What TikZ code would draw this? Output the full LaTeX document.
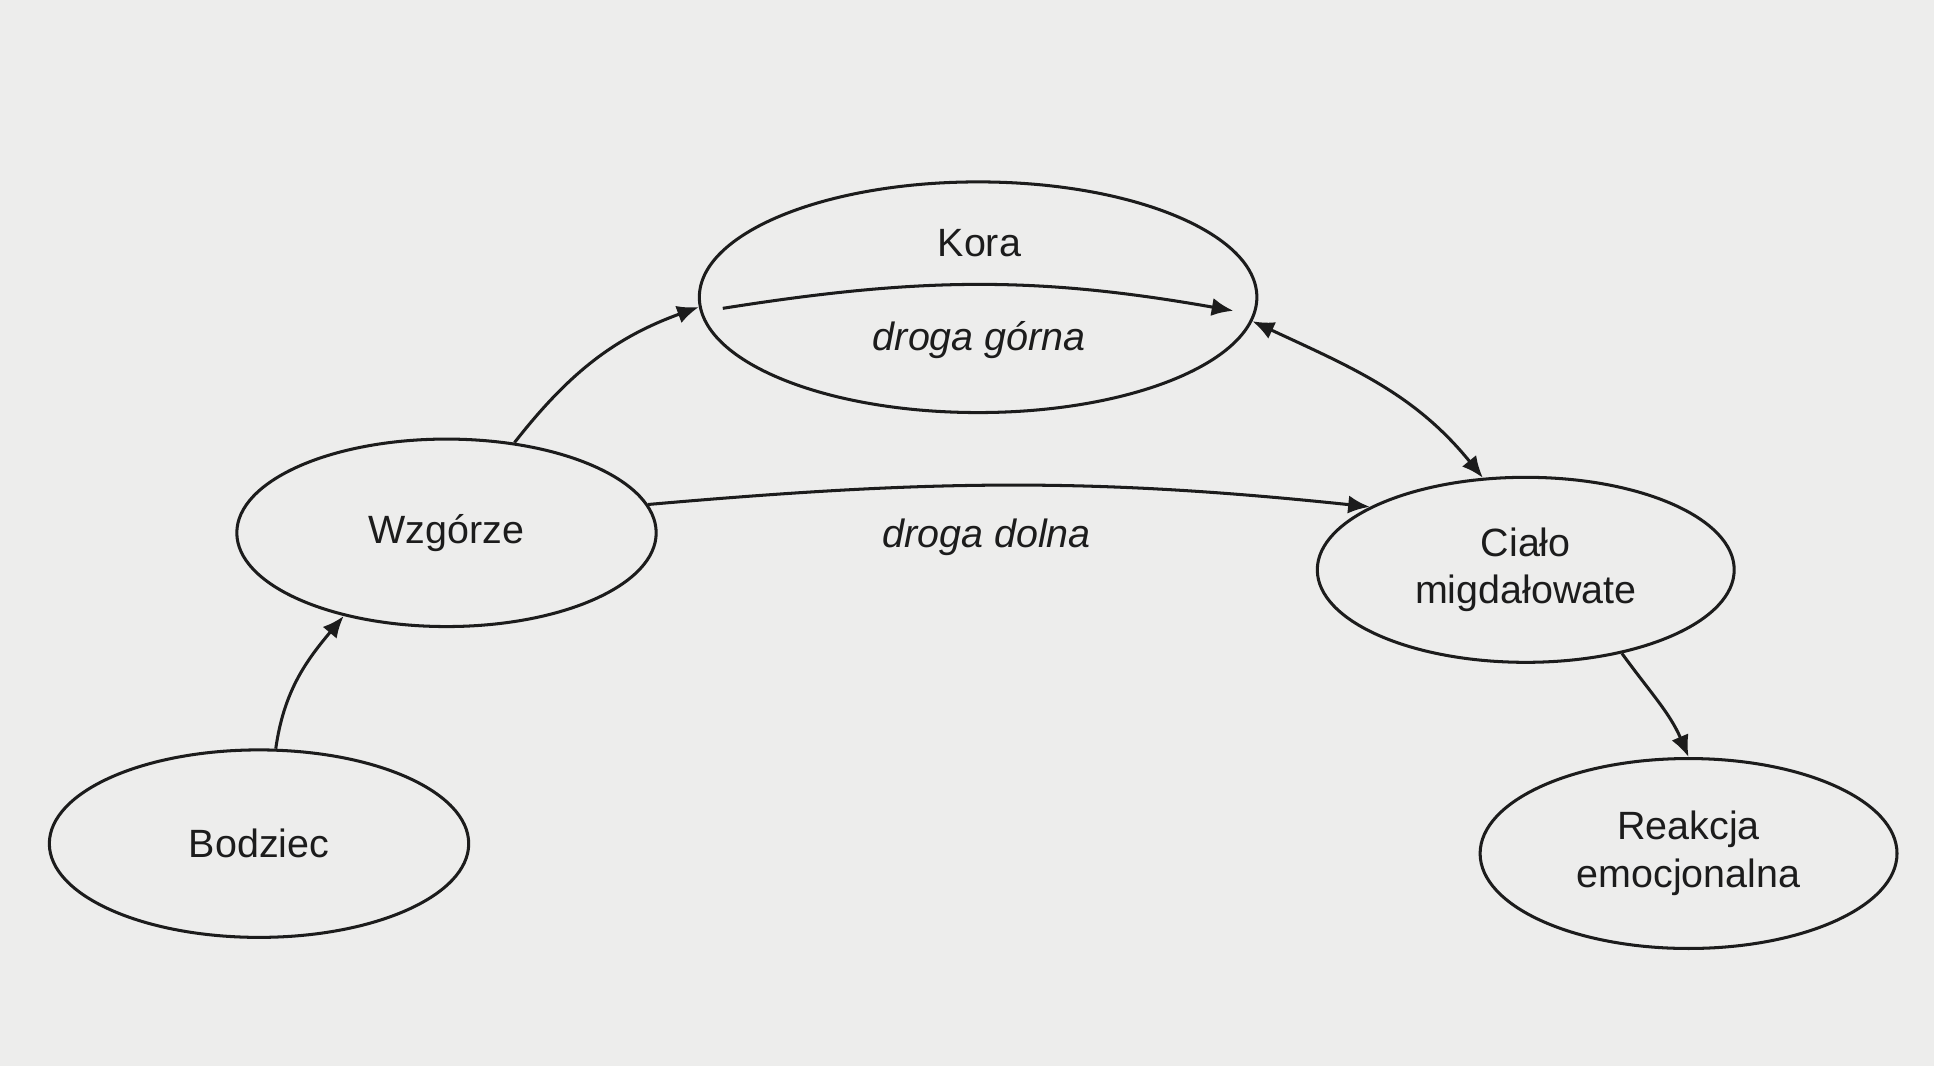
\documentclass[tikz,border=0pt]{standalone}
\usepackage{fontspec}
\setmainfont{Liberation Sans}
\usepackage{tikz}
\usetikzlibrary{shapes,arrows.meta,positioning}
\usepackage{xcolor}
\definecolor{papier}{RGB}{237,237,236}
\definecolor{tusz}{RGB}{28,28,28}

\begin{document}
\begin{tikzpicture}[
        elipsa/.style={draw=tusz, ellipse, line width=0.7pt, minimum width=3.4cm, minimum height=1.52cm, align=center, inner sep=0pt, text=tusz},
        strz/.style={-{Latex[length=5pt,width=4.2pt]}, line width=0.7pt, draw=tusz},
        font=\fontsize{9.1}{11}\selectfont]
        % Background
        \fill[papier] (0,0) rectangle (15.68,8.64);
        \useasboundingbox (0,0) rectangle (15.68,8.64);

        % Ellipses
        \node[elipsa, minimum width=4.52cm, minimum height=1.87cm] (kora) at (7.93,6.23) {};
        \node[elipsa] (wzgorze) at (3.62,4.32) {Wzgórze};
        \node[elipsa, minimum width=3.38cm, minimum height=1.50cm] (cialo) at (12.37,4.02) {Ciało\\migdałowate};
        \node[elipsa] (bodziec) at (2.10,1.80) {Bodziec};
        \node[elipsa, minimum width=3.38cm, minimum height=1.54cm] (reakcja) at (13.69,1.72) {Reakcja\\emocjonalna};

        % Labels
        \node[text=tusz] (koraTxt) at (7.94,6.67) {Kora};
        \node[text=tusz, font=\fontsize{9.1}{11}\selectfont\itshape] (gorna) at (7.94,5.88) {droga górna};
        \node[text=tusz, font=\fontsize{9.1}{11}\selectfont\itshape] (dolna) at (8.00,4.28) {droga dolna};

        % Inner path
        \coordinate (g1) at (5.86,6.14);
        \coordinate (g2) at (10.00,6.12);

        % Arrows
        \draw[strz] (bodziec.80) to[out=82, in=230] (wzgorze.219);
        \draw[strz] (wzgorze.53) to[out=52, in=200] (kora.182);
        \draw[strz] (g1) to[out=9, in=170] (g2);
        \draw[strz] (wzgorze.8) to[out=5, in=174] (cialo.158);
        \draw[strz, {Latex[length=5pt,width=4.2pt]}-{Latex[length=5pt,width=4.2pt]}] (kora.-5) to[out=-25, in=129] (cialo.115);
        \draw[strz] (cialo.-41) to[out=-54, in=113] (reakcja.north);
\end{tikzpicture}
\end{document}
